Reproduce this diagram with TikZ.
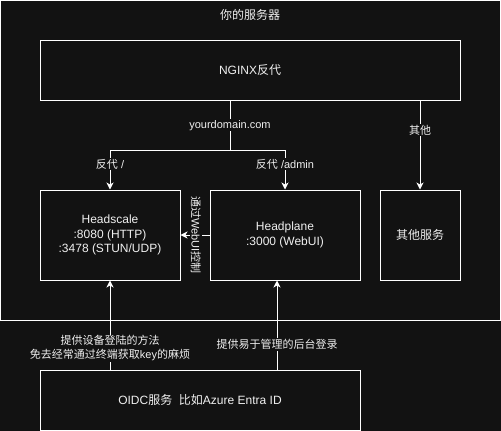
\documentclass[tikz,border=0pt]{standalone}
\usepackage{fontspec}
\setmainfont{Liberation Sans}
\newfontfamily\cjk{Noto Sans CJK SC}
\usetikzlibrary{arrows.meta}
\definecolor{bgc}{HTML}{121212}
\definecolor{txtc}{HTML}{F0F0F0}
\newcommand{\zh}[1]{{\cjk #1}}
\begin{document}
\begin{tikzpicture}[x=1pt,y=-1pt,
  box/.style={draw=white, line width=1pt, text=txtc, align=center, inner sep=0pt,
    font=\fontsize{12}{14.5}\selectfont},
  lbl/.style={fill=bgc, inner sep=1pt, text=txtc, align=center,
    font=\fontsize{11}{13.5}\selectfont},
  conn/.style={draw=white, line width=1pt},
  arr/.style={conn, -{Stealth[length=7pt,width=7pt,inset=2pt]}}]
\useasboundingbox[fill=bgc] (0,0) rectangle (501,431);
\draw[white, line width=1pt] (0.5,0.5) rectangle (500.5,320);
\node[text=txtc, font=\fontsize{12}{14}\selectfont] (title) at (250,15) {\zh{你的服务器}};
\node[box, minimum width=420pt, minimum height=60pt] (nginx) at (250,70) {NGINX\zh{反代}};
\node[box, minimum width=140pt, minimum height=90pt] (hs) at (110,235) {Headscale\\:8080 (HTTP)\\:3478 (STUN/UDP)};
\node[box, minimum width=150pt, minimum height=90pt] (hp) at (285,235) {Headplane\\:3000 (WebUI)};
\node[box, minimum width=80pt, minimum height=90pt] (oth) at (420,235) {\zh{其他服务}};
\node[box, minimum width=320pt, minimum height=60pt] (oidc) at (200,400) {OIDC\zh{服务}\ \ \zh{比如}Azure Entra ID};
\coordinate (j) at (230,150);
\coordinate (p2) at (277,0);
\draw[conn] (nginx.south -| j) -- node[lbl, pos=0.5] (l1) {yourdomain.com} (j);
\draw[arr] (j) -| node[lbl, pos=0.68] (l2) {\zh{反代} /} (hs.north);
\draw[arr] (j) -| node[lbl, pos=0.68] (l3) {\zh{反代} /admin} (hp.north);
\draw[arr] (nginx.south -| oth.north) -- node[lbl, pos=0.33] (l4) {\zh{其他}} (oth.north);
\draw[arr] (hp.west) -- node[lbl, pos=0.47, rotate=-90] (l5) {\zh{通过}WebUI\zh{控制}} (hs.east);
\draw[arr] (oidc.north -| hs.south) -- node[lbl, pos=0.24] (l6) {\zh{提供设备登陆的方法}\\\zh{免去经常通过终端获取}key\zh{的麻烦}} (hs.south);
\draw[arr] (oidc.north -| p2) -- node[lbl, pos=0.28] (l7) {\zh{提供易于管理的后台登录}} (hp.south -| p2);
\end{tikzpicture}
\end{document}
